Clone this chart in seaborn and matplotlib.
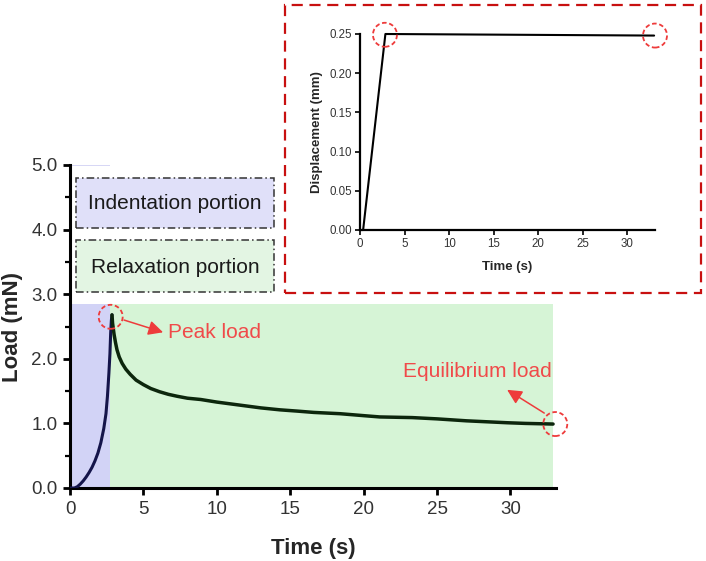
import numpy as np
import pandas as pd
import matplotlib
matplotlib.use("Agg")
import matplotlib.pyplot as plt
import seaborn as sns
from matplotlib.patches import Rectangle, Circle
from matplotlib.transforms import ScaledTranslation

# ---------------- data ----------------
time_rise = [0.0, 0.3, 0.5, 0.7, 0.9, 1.1, 1.3, 1.5, 1.7, 1.9, 2.1, 2.3, 2.45,
             2.55, 2.65, 2.72, 2.77, 2.82, 2.86]
load_rise = [0.0, 0.0, 0.02, 0.06, 0.11, 0.17, 0.24, 0.32, 0.42, 0.54, 0.70, 0.92, 1.15,
             1.42, 1.78, 2.08, 2.40, 2.60, 2.68]

time_relax = [2.86, 2.9, 3.0, 3.1, 3.2, 3.35, 3.55, 3.8, 4.1, 4.5, 5.0, 5.5, 6.1, 6.7, 7.3,
              8.0, 8.9, 10.0, 11.0, 12.0, 13.0, 14.3, 15.5, 16.6, 18.4, 20.0,
              21.1, 23.3, 25.0, 27.0, 29.8, 31.0, 32.9]
load_relax = [2.68, 2.55, 2.38, 2.25, 2.14, 2.03, 1.93, 1.84, 1.76, 1.67, 1.60, 1.54, 1.49,
              1.45, 1.42, 1.39, 1.37, 1.33, 1.30, 1.27, 1.24, 1.21, 1.19, 1.17, 1.15, 1.12,
              1.10, 1.09, 1.07, 1.04, 1.01, 1.00, 0.99]

disp_time = [0.0, 0.35, 2.85, 33.0]
disp_value = [0.0, 0.0, 0.25, 0.248]

main_xticks = [0, 5, 10, 15, 20, 25, 30]
main_yticks = [0.0, 1.0, 2.0, 3.0, 4.0, 5.0]
inset_xticks = [0, 5, 10, 15, 20, 25, 30]
inset_yticks = [0.00, 0.05, 0.10, 0.15, 0.20, 0.25]

indent_end = 2.75
shade_top = 2.85
x_max = 33.1

peak_point = (2.77, 2.65)
equil_point = (33.05, 0.99)
inset_peak = (2.8, 0.249)
inset_end = (33.1, 0.248)

# ---------------- style ----------------
sns.set_theme(style="ticks")
plt.rcParams["font.family"] = ["Liberation Sans", "DejaVu Sans"]

fig = plt.figure(figsize=(7.06, 5.61), dpi=100)
fig.patch.set_facecolor("white")

# ---------------- main axes ----------------
ax = fig.add_axes([70/706, 1-488/561, (556-70)/706, (488-165)/561])
ax.set_facecolor("none")

ax.fill_between([0, indent_end], 0, shade_top, color="#d2d3f6", lw=0, zorder=0)
ax.fill_between([indent_end, 32.9], 0, shade_top, color="#d6f4d6", lw=0, zorder=0)
ax.hlines(5.0, 0, indent_end, color="#cfd0f4", lw=1.2, zorder=0)

sns.lineplot(x=time_rise, y=load_rise, ax=ax, color="#14144a", lw=2.2, zorder=3)
sns.lineplot(x=time_relax, y=load_relax, ax=ax, color="#0c260c", lw=2.5, zorder=3)

ax.set_xlim(0, x_max)
ax.set_ylim(0, 5.0)
ax.set_xticks(main_xticks)
ax.set_xticklabels([str(v) for v in main_xticks])
ax.set_yticks(main_yticks)
ax.set_yticklabels([f"{v:.1f}" for v in main_yticks])
ax.set_yticks(np.arange(0.5, 5.0, 1.0), minor=True)
for s in ["top", "right"]:
    ax.spines[s].set_visible(False)
for s in ["left", "bottom"]:
    ax.spines[s].set_linewidth(2.2)
    ax.spines[s].set_color("black")
ax.tick_params(axis="both", which="major", length=5, width=2, direction="out",
               labelsize=13.5, labelcolor="#333333", color="black", pad=4)
ax.tick_params(axis="y", which="minor", length=3.5, width=1.6, color="black")
ax.set_xlabel("Time (s)", fontsize=16, fontweight="bold", labelpad=15)
ax.set_ylabel("Load (mN)", fontsize=16, fontweight="bold", labelpad=6)

# legend-like boxes
box_ls = (0, (5, 2, 1, 2))
ax.add_patch(Rectangle((0.4, 4.02), 13.5, 0.78, facecolor="#e0e0f9", edgecolor="#333333",
                       lw=1.1, linestyle=box_ls, zorder=2))
ax.add_patch(Rectangle((0.4, 3.03), 13.5, 0.81, facecolor="#e3f5e3", edgecolor="#333333",
                       lw=1.1, linestyle=box_ls, zorder=2))
ax.text(7.15, 4.40, "Indentation portion", ha="center", va="center", fontsize=15,
        color="#1a1a1a", zorder=3)
ax.text(7.15, 3.42, "Relaxation portion", ha="center", va="center", fontsize=15,
        color="#1a1a1a", zorder=3)

red = "#ee3b3b"


def dashed_circle(axis, xy, r_in):
    c = Circle((0, 0), radius=r_in, facecolor="none", edgecolor=red, lw=1.3,
               linestyle=(0, (2.5, 1.5)),
               transform=fig.dpi_scale_trans + ScaledTranslation(xy[0], xy[1], axis.transData),
               clip_on=False, zorder=5)
    axis.add_patch(c)


dashed_circle(ax, peak_point, 0.12)
dashed_circle(ax, equil_point, 0.12)

ax.annotate("", xy=(6.34, 2.41), xytext=(3.68, 2.60),
            arrowprops=dict(arrowstyle="-|>", color=red, lw=1.1, mutation_scale=22,
                            shrinkA=0, shrinkB=0), zorder=5)
ax.text(6.7, 2.41, "Peak load", ha="left", va="center", fontsize=15, color="#f04a4a", zorder=5)

ax.annotate("", xy=(29.77, 1.52), xytext=(32.3, 1.16),
            arrowprops=dict(arrowstyle="-|>", color=red, lw=1.1, mutation_scale=22,
                            shrinkA=0, shrinkB=0), zorder=5, annotation_clip=False)
ax.text(27.75, 1.80, "Equilibrium load", ha="center", va="center", fontsize=15,
        color="#f04a4a", zorder=5)

# ---------------- inset ----------------
fig.patches.append(Rectangle((285/706, 1-293/561), (701-285)/706, (293-5)/561,
                             transform=fig.transFigure, facecolor="white",
                             edgecolor="#c81010", lw=1.6, linestyle=(0, (5, 3)),
                             zorder=4, figure=fig))

ins = fig.add_axes([360/706, 1-230/561, (655-360)/706, (230-34)/561], zorder=5)
ins.set_facecolor("white")
sns.lineplot(x=disp_time, y=disp_value, ax=ins, color="black", lw=1.5)
for ln in ins.lines:
    ln.set_clip_on(False)
ins.set_xlim(0, 33.1)
ins.set_ylim(0, 0.25)
ins.set_xticks(inset_xticks)
ins.set_xticklabels([str(v) for v in inset_xticks])
ins.set_yticks(inset_yticks)
ins.set_yticklabels([f"{v:.2f}" for v in inset_yticks])
for s in ["top", "right"]:
    ins.spines[s].set_visible(False)
for s in ["left", "bottom"]:
    ins.spines[s].set_linewidth(1.6)
    ins.spines[s].set_color("black")
ins.tick_params(axis="both", length=3.5, width=1.2, labelsize=8.3, labelcolor="#333333",
                color="black", pad=2)
ins.set_xlabel("Time (s)", fontsize=9.5, fontweight="bold", labelpad=8)
ins.set_ylabel("Displacement (mm)", fontsize=9.5, fontweight="bold", labelpad=5)

dashed_circle(ins, inset_peak, 0.12)
dashed_circle(ins, inset_end, 0.12)

fig.savefig("out.png", dpi=100, facecolor="white")
